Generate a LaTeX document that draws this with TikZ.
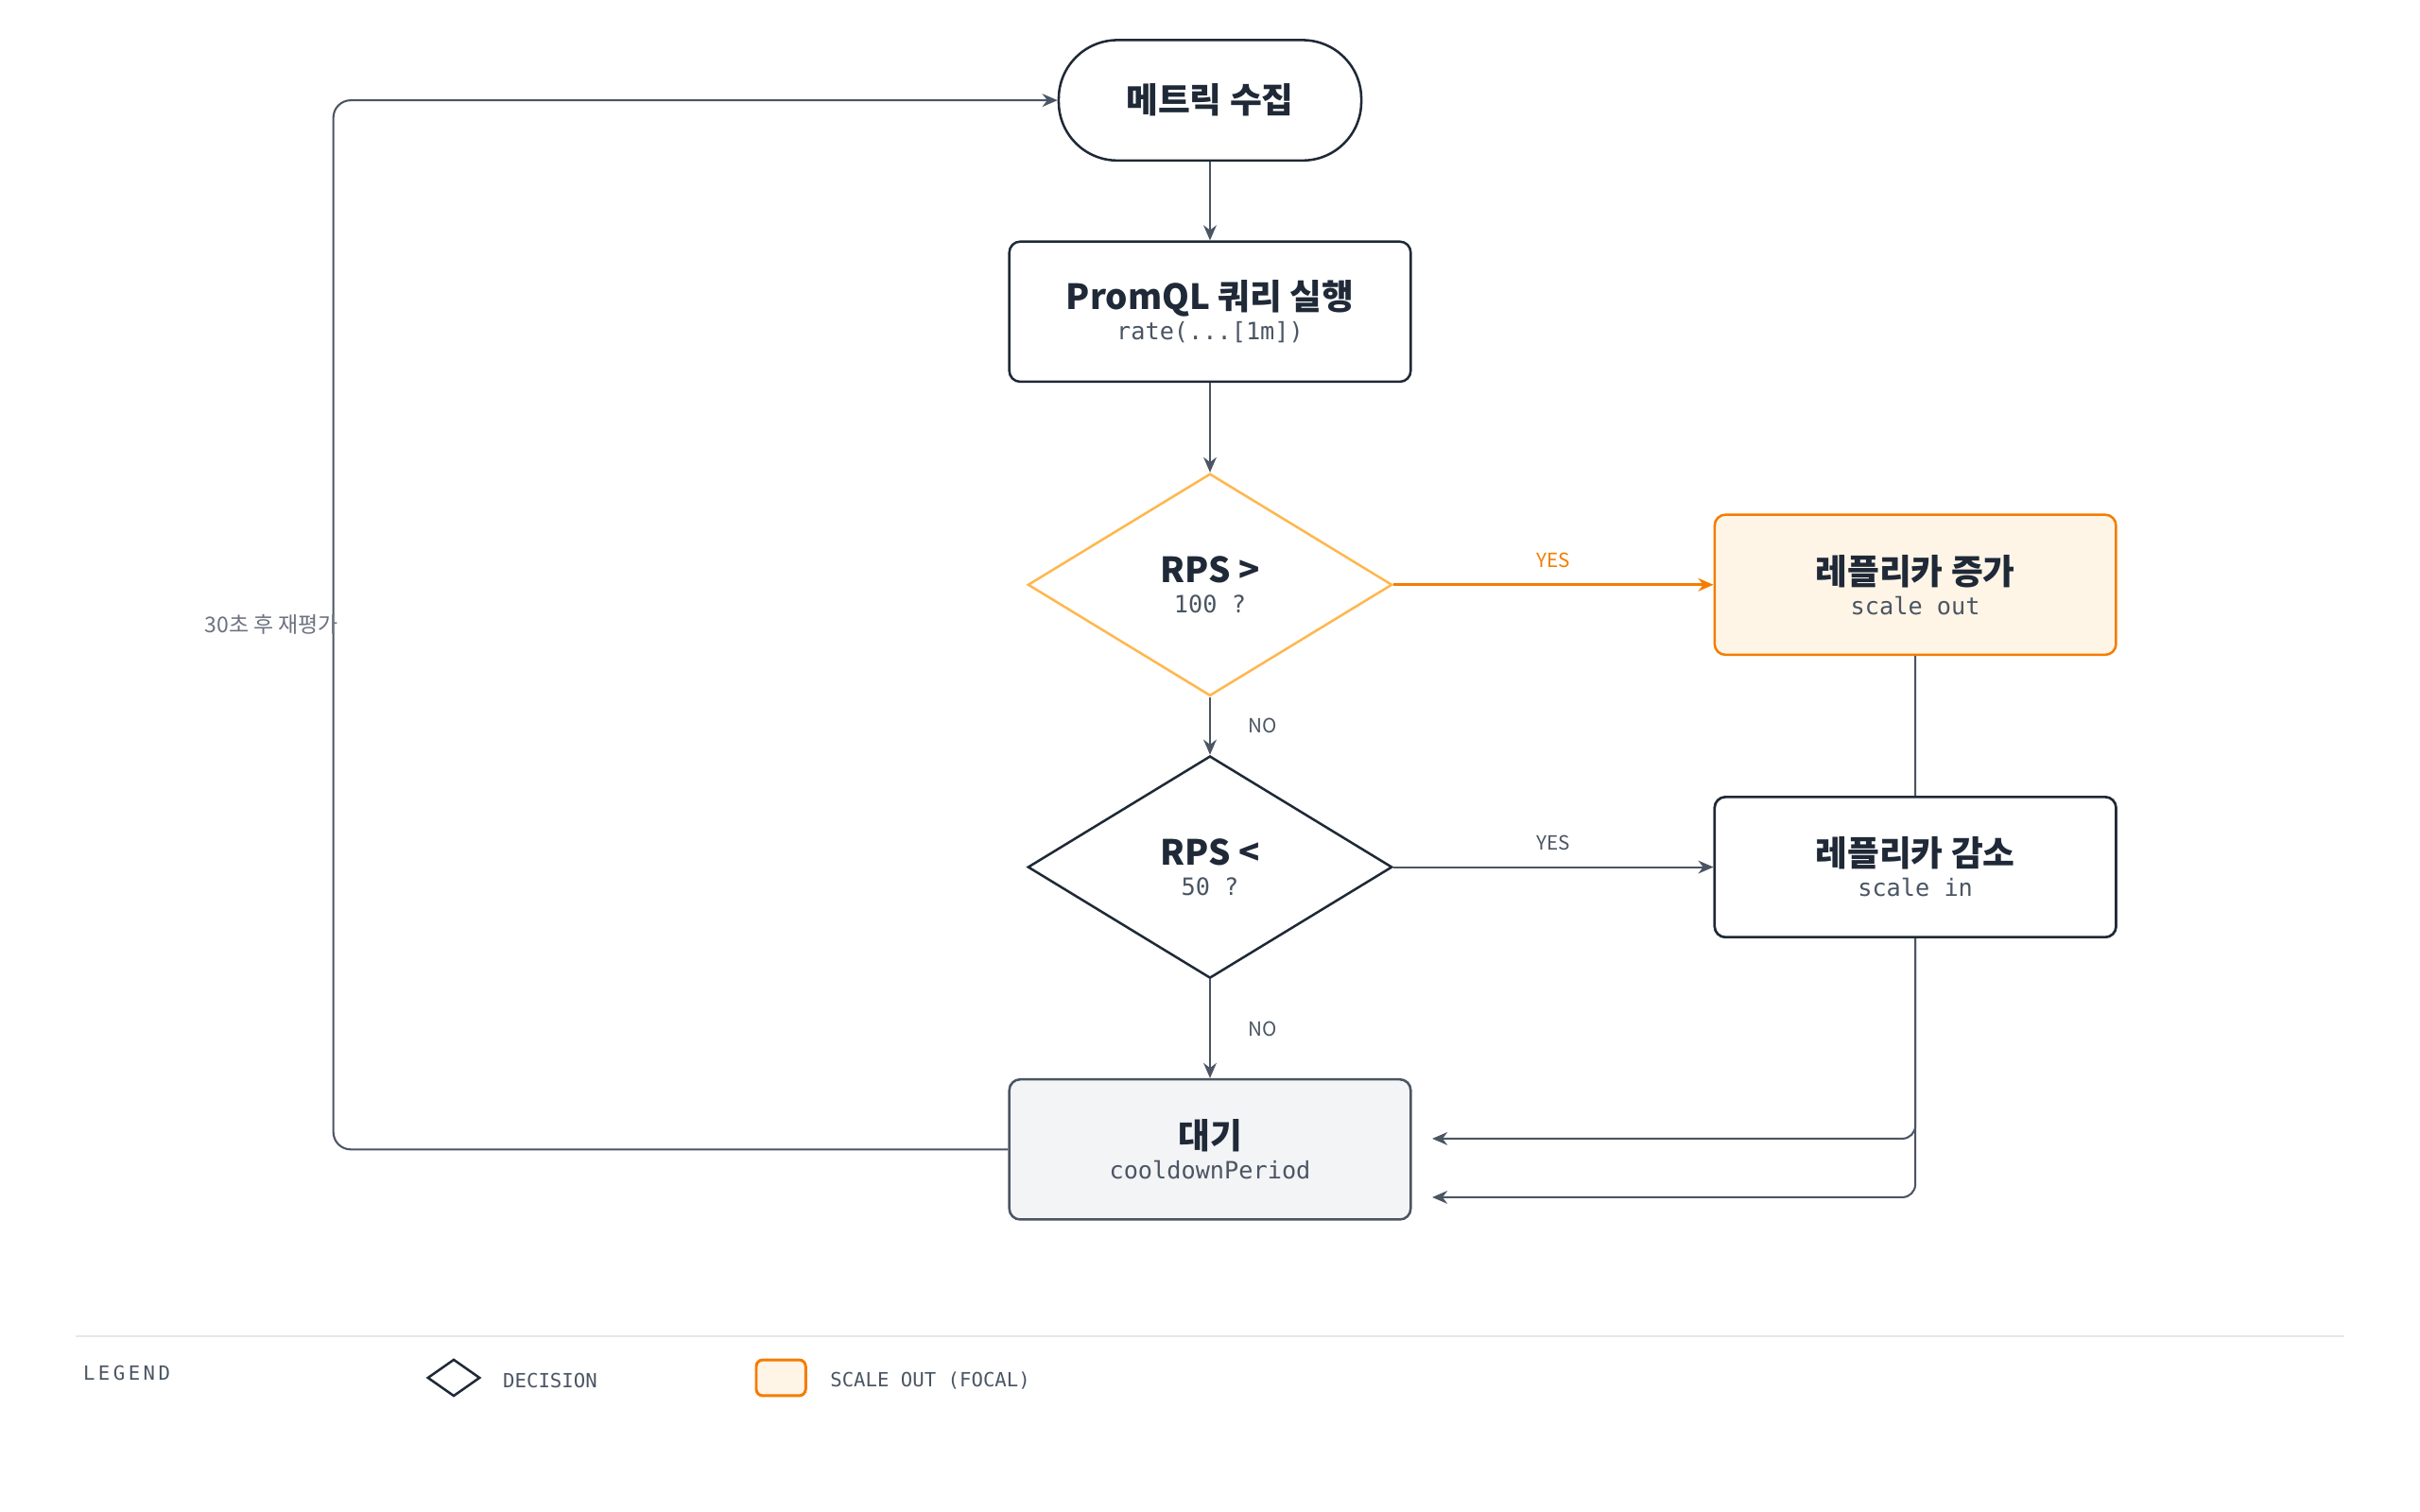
\documentclass[tikz,border=0pt]{standalone}
\usepackage{fontspec}
\setmainfont{Noto Sans CJK KR}
\newfontfamily\monofont{DejaVu Sans Mono}
\usepackage{xcolor}
\usetikzlibrary{arrows.meta, shapes.geometric, positioning}
\definecolor{ink}{HTML}{1F2937}
\definecolor{wire}{HTML}{4B5563}
\definecolor{muted}{HTML}{6B7280}
\definecolor{focal}{HTML}{F57C00}
\definecolor{focalfill}{HTML}{FEF5E7}
\definecolor{warn}{HTML}{FFB74D}
\definecolor{idle}{HTML}{F3F4F6}
\definecolor{rule}{HTML}{E5E7EB}
\tikzset{
  box/.style={draw=ink, line width=1.1pt, rounded corners=5pt, fill=white,
    minimum width=6.5cm, minimum height=2.27cm, align=center},
  check/.style={diamond, draw=ink, line width=1.1pt, fill=white, inner sep=0pt,
    minimum width=5.9cm, minimum height=3.6cm, align=center},
  wire/.style={draw=wire, line width=0.9pt, -{Stealth[length=7pt, width=6pt]}},
  tag/.style={font=\fontsize{9}{10}\selectfont, text=wire},
  head/.style={font=\fontsize{16}{18}\selectfont\bfseries, text=ink},
}
\newcommand{\sub}[1]{\\[2pt]{\monofont\fontsize{11}{13}\selectfont\color{wire}#1}}
\begin{document}
\begin{tikzpicture}[x=0.025cm, y=-0.025cm]
  \useasboundingbox (0,0) rectangle (1568,980);

  % flow
  \node[box, rounded corners=0.95cm, minimum width=4.9cm, minimum height=1.95cm,
    head] (collect) at (784,65) {메트릭 수집};
  \node[box] (query) at (784,202) {{\fontsize{16}{18}\selectfont\bfseries\color{ink}PromQL 쿼리 실행}\sub{rate(...[1m])}};
  \node[check, draw=warn] (up) at (784,379) {{\fontsize{16}{18}\selectfont\bfseries\color{ink}RPS >}\sub{100 ?}};
  \node[box, draw=focal, fill=focalfill] (out) at (1241,379) {{\fontsize{16}{18}\selectfont\bfseries\color{ink}레플리카 증가}\sub{scale out}};
  \node[check] (down) at (784,562) {{\fontsize{16}{18}\selectfont\bfseries\color{ink}RPS <}\sub{50 ?}};
  \node[box] (in) at (1241,562) {{\fontsize{16}{18}\selectfont\bfseries\color{ink}레플리카 감소}\sub{scale in}};
  \node[box, draw=wire, fill=idle] (wait) at (784,745) {{\fontsize{16}{18}\selectfont\bfseries\color{ink}대기}\sub{cooldownPeriod}};
  \coordinate (inend) at (928,738);
  \coordinate (outend) at (928,776);

  % connectors
  \draw[wire] (collect) -- (query);
  \draw[wire] (query) -- (up);
  \draw[wire, draw=focal, line width=1.3pt] (up) -- node[above=4pt, tag, text=focal]{YES} (out);
  \draw[wire] (up) -- node[right=14pt, tag]{NO} (down);
  \draw[wire] (down) -- node[above=4pt, tag]{YES} (in);
  \draw[wire] (down) -- node[right=14pt, tag]{NO} (wait);
  \begin{scope}[on background layer/.style={}]
  \end{scope}
  \draw[wire] (in.south) -- (1241,728) [rounded corners=6pt] |- (inend);
  \draw[wire, rounded corners=6pt] (out.south) -- (1241,776) -- (outend);
  \node[box, draw=ink] at (1241,562) {{\fontsize{16}{18}\selectfont\bfseries\color{ink}레플리카 감소}\sub{scale in}};
  \draw[wire, rounded corners=8pt] (wait.west) -- (216,745) -- (216,65) -- (collect.west);
  \node[tag, text=muted, font=\fontsize{10}{12}\selectfont] (again) at (176,405) {30초 후 재평가};

  % legend
  \draw[rule, line width=0.8pt] (49,866) -- (1519,866);
  \node[tag, anchor=west, font=\monofont\fontsize{9}{10}\selectfont] (legend) at (49,890) {L\,E\,G\,E\,N\,D};
  \node[diamond, draw=ink, line width=1.1pt, minimum width=0.85cm, minimum height=0.6cm,
    inner sep=0pt] (keydec) at (294,893) {};
  \node[tag, anchor=west, font=\monofont\fontsize{9}{10}\selectfont] (keydectext) at (321,895) {DECISION};
  \node[draw=focal, fill=focalfill, line width=1.3pt, rounded corners=3pt,
    minimum width=0.8cm, minimum height=0.58cm] (keyout) at (506,893) {};
  \node[tag, anchor=west, font=\monofont\fontsize{9}{10}\selectfont] (keyouttext) at (533,895) {SCALE OUT (FOCAL)};
\end{tikzpicture}
\end{document}
